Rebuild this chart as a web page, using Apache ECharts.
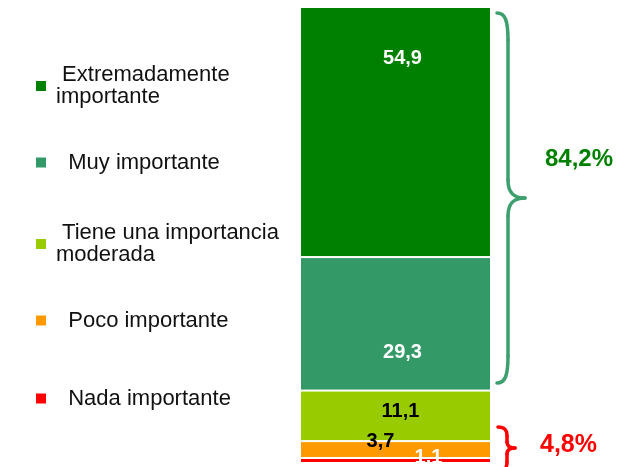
<!DOCTYPE html>
<html>
<head>
<meta charset="utf-8">
<script src="https://cdn.jsdelivr.net/npm/echarts@6/dist/echarts.min.js"></script>
<style>
html,body{margin:0;padding:0;background:#fff;}
#chart{width:635px;height:467px;}
</style>
</head>
<body>
<div id="chart"></div>
<script>
// Data (stack order: bottom to top)
var categories = ['Total'];
var seriesNames = ['Nada importante', 'Poco importante', 'Tiene una importancia moderada', 'Muy importante', 'Extremadamente importante'];
var seriesValues = [1.1, 3.7, 11.1, 29.3, 54.9];
var legendLabels = ['  Nada importante', '  Poco importante', ' Tiene una importancia\nmoderada', '  Muy importante', ' Extremadamente\nimportante'];
var groupLabels = ['84,2%', '4,8%'];

var colors = ['#FF0000', '#FF9900', '#99CC00', '#339966', '#008000'];
var labelColors = ['#ffffff', '#000000', '#000000', '#ffffff', '#ffffff'];
var labelOffsets = [[33, -3], [-15, -8], [5, -4], [7, 29], [7, -74]];
var legendTops = [387.5, 309.5, 222, 151.5, 64];

var total = seriesValues.reduce(function (a, b) { return a + b; }, 0);

var series = seriesNames.map(function (name, i) {
  return {
    name: name,
    type: 'bar',
    stack: 'total',
    barWidth: '100%',
    data: [seriesValues[i]],
    itemStyle: { color: colors[i], borderColor: '#ffffff', borderWidth: 1 },
    label: {
      show: true,
      position: 'inside',
      offset: labelOffsets[i],
      color: labelColors[i],
      fontFamily: 'Liberation Sans, Arial, sans-serif',
      fontWeight: 'bold',
      fontSize: 20,
      formatter: function (p) { return String(p.value).replace('.', ','); }
    },
    emphasis: { disabled: true }
  };
});

var legends = seriesNames.map(function (name, i) {
  return {
    data: [name],
    left: 36,
    top: legendTops[i],
    padding: 0,
    orient: 'vertical',
    icon: 'rect',
    itemWidth: 10,
    itemHeight: 10,
    itemStyle: { borderWidth: 0 },
    selectedMode: false,
    formatter: function () { return legendLabels[i]; },
    textStyle: {
      fontFamily: 'Liberation Sans, Arial, sans-serif',
      fontSize: 22,
      lineHeight: 22,
      color: '#111111',
      padding: [0, 0, 0, 5]
    }
  };
});

function brace(pts, color) {
  var st = { fill: 'none', stroke: color, lineWidth: 3.5, lineCap: 'round' };
  return pts.map(function (s) {
    if (s.b) {
      return { type: 'bezierCurve', shape: { x1: s.b[0], y1: s.b[1], cpx1: s.b[2], cpy1: s.b[3], cpx2: s.b[4], cpy2: s.b[5], x2: s.b[6], y2: s.b[7] }, style: st };
    }
    return { type: 'line', shape: { x1: s.l[0], y1: s.l[1], x2: s.l[2], y2: s.l[3] }, style: st };
  });
}

var greenBrace = brace([
  { b: [497, 13, 505, 13, 508, 20, 508, 40] },
  { l: [508, 40, 508, 180] },
  { b: [508, 180, 508, 193, 514, 198, 525, 198] },
  { b: [525, 198, 514, 198, 508, 203, 508, 216] },
  { l: [508, 216, 508, 356] },
  { b: [508, 356, 508, 376, 505, 383, 497, 383] }
], '#3d9e6e');

var redBrace = brace([
  { b: [498, 427, 505, 427, 507, 430, 507, 436] },
  { l: [507, 436, 507, 442] },
  { b: [507, 442, 507, 446, 510, 448, 515, 448] },
  { b: [515, 448, 510, 448, 507, 450, 507, 454] },
  { l: [507, 454, 507, 462] },
  { b: [507, 462, 507, 468, 505, 471, 498, 471] }
], '#FF0000');

var chart = echarts.init(document.getElementById('chart'));
chart.setOption({
  animation: false,
  backgroundColor: '#ffffff',
  grid: { left: 300, right: 144, top: 7, bottom: 4 },
  xAxis: { type: 'category', data: categories, show: false },
  yAxis: { type: 'value', min: 0, max: total, show: false },
  legend: legends,
  series: series,
  graphic: greenBrace.concat(redBrace).concat([
    {
      type: 'text',
      left: 545,
      top: 147,
      style: { text: groupLabels[0], fill: '#008000', font: 'bold 24px "Liberation Sans", Arial, sans-serif' }
    },
    {
      type: 'text',
      left: 540,
      top: 433,
      style: { text: groupLabels[1], fill: '#FF0000', font: 'bold 25px "Liberation Sans", Arial, sans-serif' }
    }
  ])
});
</script>
</body>
</html>
